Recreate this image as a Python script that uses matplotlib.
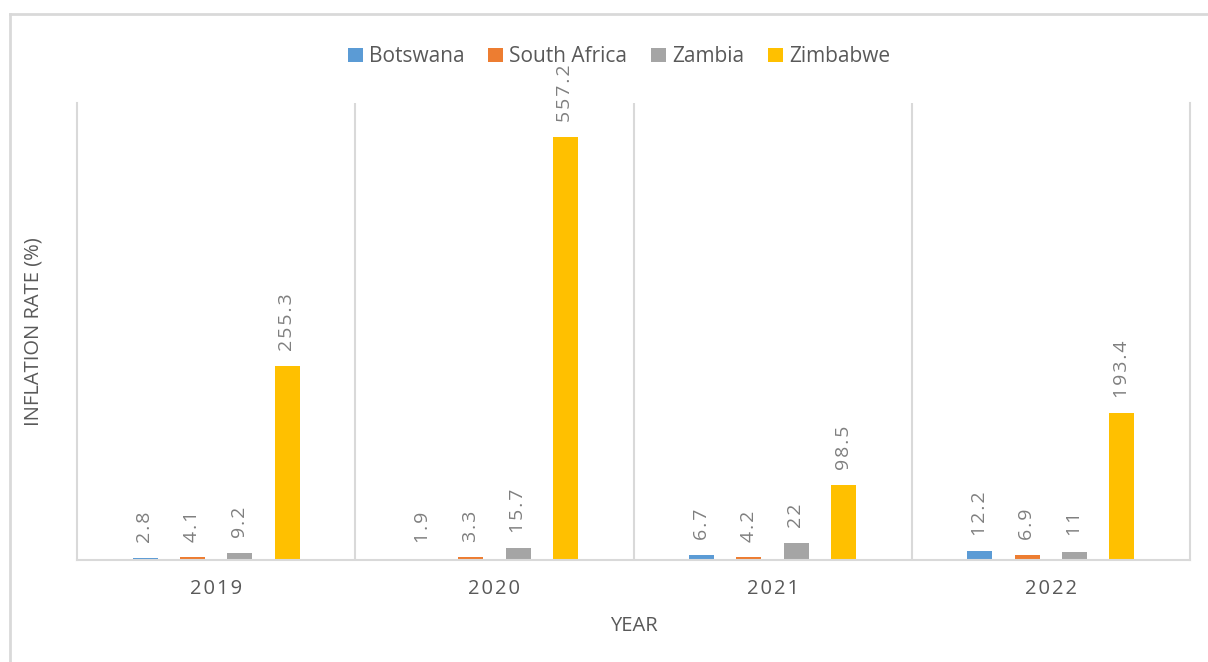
import matplotlib.pyplot as plt
import numpy as np
from matplotlib.lines import Line2D

years = ["2019", "2020", "2021", "2022"]
countries = ["Botswana", "South Africa", "Zambia", "Zimbabwe"]
botswana = [2.8, 1.9, 6.7, 12.2]
south_africa = [4.1, 3.3, 4.2, 6.9]
zambia = [9.2, 15.7, 22, 11]
zimbabwe = [255.3, 557.2, 98.5, 193.4]

colors = ["#5b9bd5", "#ed7d31", "#a5a5a5", "#ffc000"]
series = [botswana, south_africa, zambia, zimbabwe]

plt.rcParams["font.family"] = ["Open Sans", "DejaVu Sans"]

fig = plt.figure(figsize=(12.08, 6.62), dpi=100)
ax = fig.add_axes([77 / 1208, 1 - 560 / 662, (1190 - 77) / 1208, (560 - 103) / 662])

# chart border (partly off the canvas)
border = "#d9d9d9"
fig.add_artist(Line2D([10 / 1208, 10 / 1208], [0, 1 - 14 / 662], color=border, lw=2,
                      transform=fig.transFigure))
fig.add_artist(Line2D([10 / 1208, 1], [1 - 14 / 662, 1 - 14 / 662], color=border, lw=2,
                      transform=fig.transFigure))

x = np.arange(len(years))
width = 0.09
offsets = [-0.255, -0.085, 0.085, 0.255]


def spaced(s):
    return "\u200a".join(s)


for vals, off, col, name in zip(series, offsets, colors, countries):
    bars = ax.bar(x + off, vals, width, color=col, label=name)
    for b, v in zip(bars, vals):
        ax.text(b.get_x() + b.get_width() / 2, v + 20, spaced(f"{v:g}"), rotation=90,
                ha="center", va="bottom", fontsize=14, color="#7f7f7f")

ax.set_xlim(-0.5, 3.5)
ax.set_ylim(0, 602)
ax.set_yticks([])
ax.set_xticks(x)
ax.set_xticklabels([spaced(y) for y in years], fontsize=14.5, color="#595959")
ax.tick_params(axis="x", length=0, pad=14)

for xv in [0.5, 1.5, 2.5]:
    ax.axvline(xv, color=border, lw=1.5)
for side in ["left", "right", "bottom"]:
    ax.spines[side].set_color(border)
    ax.spines[side].set_linewidth(1.5)
ax.spines["top"].set_visible(False)

ax.set_xlabel("YEAR", fontsize=14.5, color="#595959", labelpad=12)
ax.set_ylabel("INFLATION RATE (%)", fontsize=14.5, color="#595959", labelpad=24)

ax.legend(loc="upper center", bbox_to_anchor=(0.487, 1.165), ncol=4, frameon=False,
          fontsize=15, handlelength=0.7, handleheight=0.7, handletextpad=0.3,
          columnspacing=1.15, labelcolor="#595959")

fig.savefig("out.png", dpi=100)
